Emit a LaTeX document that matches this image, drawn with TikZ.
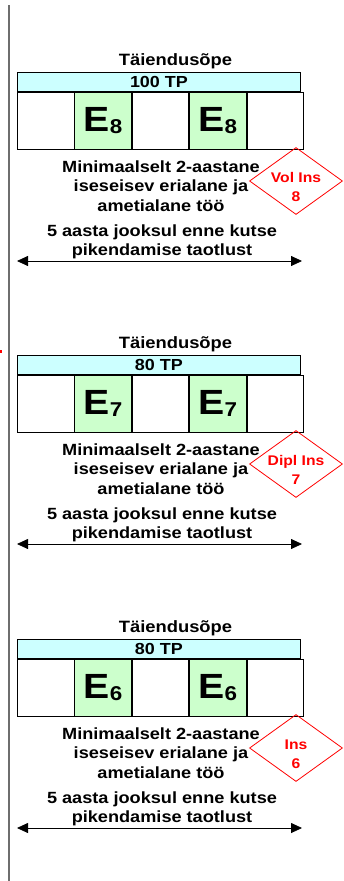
\documentclass[tikz,border=0pt]{standalone}
\usepackage{fontspec}
\setmainfont{Liberation Sans}[FakeStretch=1.12]
\usetikzlibrary{positioning,shapes.geometric,arrows.meta}
\definecolor{tpcyan}{RGB}{204,255,255}
\definecolor{egreen}{RGB}{204,255,204}
\definecolor{rulegray}{RGB}{110,110,110}
\newcommand{\elevel}[1]{{\fontsize{35}{35}\selectfont E}{\fontsize{20}{20}\selectfont\raisebox{-2pt}{#1}}}

\begin{document}
\begin{tikzpicture}[x=1pt,y=-1pt,line width=0.8pt,
    title/.style={anchor=base,font=\fontsize{16.4}{16}\selectfont\bfseries},
    tpbar/.style={draw,fill=tpcyan,anchor=north west,minimum width=283pt,minimum height=19pt,inner sep=0pt,font=\fontsize{16}{16}\selectfont\bfseries},
    cell/.style={draw,minimum width=56.6pt,minimum height=57pt,inner sep=0pt,font=\bfseries},
    ecell/.style={cell,fill=egreen},
    info/.style={anchor=base,align=center,font=\fontsize{16.2}{19.5}\selectfont\bfseries},
    insbox/.style={draw=red,diamond,minimum width=93pt,minimum height=67pt,inner sep=0pt},
    instext/.style={text=red,align=center,font=\fontsize{14}{19}\selectfont\bfseries},
    span/.style={{Triangle[length=11pt,width=10pt]}-{Triangle[length=11pt,width=10pt]}}]
  \useasboundingbox (0,0) rectangle (343,881);

  % vertical rule
  \draw[rulegray,line width=2pt] (9,5) -- (9,881);
  \fill[red] (0,349.5) rectangle (2,352.5);

  \foreach \o/\tp/\n/\ins [count=\k] in {0/100 TP/8/Vol Ins,283/80 TP/7/Dipl Ins,567/80 TP/6/Ins} {
    \node[title] (t\k) at (175.5,65+\o) {Täiendusõpe};
    \node[tpbar] (bar\k) at (17,72+\o) {\tp};
    \node[cell,anchor=north west] (c\k1) at (bar\k.south west) {};
    \node[ecell,right=0pt of c\k1] (c\k2) {\elevel{\n}};
    \node[cell,right=0pt of c\k2] (c\k3) {};
    \node[ecell,right=0pt of c\k3] (c\k4) {\elevel{\n}};
    \node[cell,right=0pt of c\k4] (c\k5) {};

    % base = last line
    \node[info] (req\k) at (161,211.3+\o) {Minimaalselt 2-aastane\\iseseisev erialane ja\\ametialane töö};
    \node[info] (ren\k) at (162,255.5+\o) {5 aasta jooksul enne kutse\\pikendamise taotlust};

    \coordinate (l\k) at (17,261+\o);
    \coordinate (r\k) at (302,261+\o);
    \draw[span] (l\k) -- (r\k);

    \node[insbox] (d\k) at (296,181+\o) {};
    \node[instext] (dt\k) at ([yshift=-6pt]d\k.center) {\ins\\\n};
  }
\end{tikzpicture}
\end{document}
